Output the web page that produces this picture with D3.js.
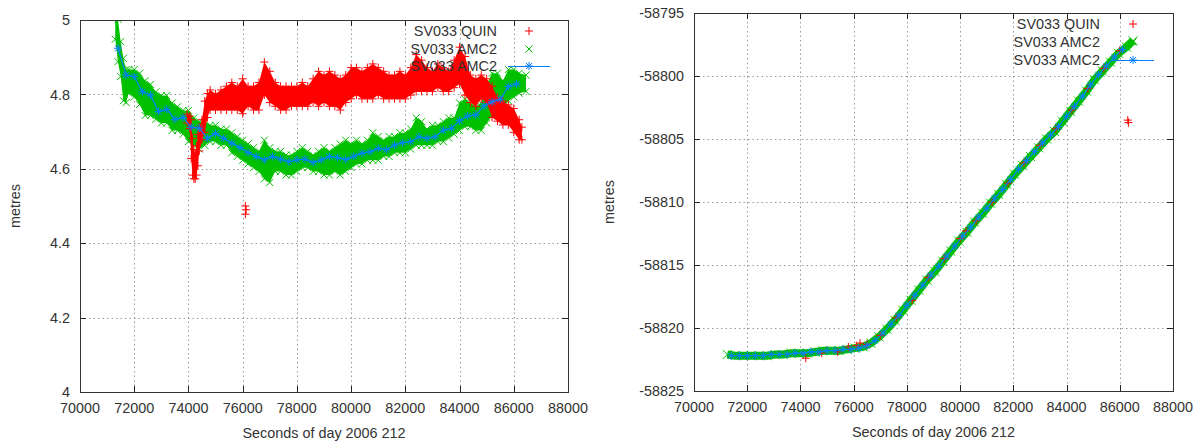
<!DOCTYPE html>
<html><head><meta charset="utf-8">
<script src="https://cdn.jsdelivr.net/npm/d3@7/dist/d3.min.js"></script>
<style>
body{margin:0;background:#fff;}
svg{display:block;font-family:"Liberation Sans",Arial,sans-serif;}
</style></head><body>
<svg id="c" width="1200" height="443"></svg>
<script>
// ---------- shared ----------
const xTicks = [70000,72000,74000,76000,78000,80000,82000,84000,86000,88000];
const leftYTicks = [4,4.2,4.4,4.6,4.8,5];
const rightYTicks = [-58825,-58820,-58815,-58810,-58805,-58800,-58795];
const xLabel = "Seconds of day 2006 212";
const yLabel = "metres";
const legendLabels = ["SV033 QUIN","SV033 AMC2","SV033 AMC2"];

// ---------- left panel: SV033 QUIN (band of points, lo/hi envelope) ----------
const quinTime = [73950,74050,74100,74150,74200,74250,74300,74350,74400,74500,74600,74700,74800,75000,75200,75400,75600,75800,76000,76200,76400,76600,76800,77000,77200,77400,77600,77800,78000,78200,78400,78600,78800,79000,79200,79400,79600,79800,80000,80200,80400,80600,80800,81000,81200,81400,81600,81800,82000,82200,82400,82600,82800,83000,83200,83400,83600,83800,84000,84200,84400,84600,84800,85000,85200,85400,85600,85800,86000,86200,86300];
const quinLo = [4.715,4.70,4.62,4.575,4.565,4.565,4.575,4.60,4.64,4.67,4.69,4.73,4.75,4.75,4.75,4.75,4.75,4.75,4.74,4.76,4.75,4.75,4.79,4.77,4.76,4.75,4.75,4.76,4.76,4.76,4.76,4.77,4.76,4.77,4.76,4.76,4.75,4.77,4.78,4.79,4.78,4.78,4.78,4.79,4.78,4.78,4.78,4.78,4.78,4.79,4.80,4.80,4.80,4.80,4.81,4.80,4.80,4.81,4.82,4.79,4.77,4.76,4.78,4.77,4.73,4.72,4.71,4.71,4.69,4.67,4.67];
const quinHi = [4.755,4.75,4.74,4.69,4.66,4.65,4.67,4.70,4.72,4.74,4.79,4.81,4.82,4.81,4.82,4.83,4.84,4.83,4.85,4.83,4.83,4.84,4.895,4.87,4.84,4.83,4.83,4.83,4.83,4.84,4.83,4.85,4.87,4.86,4.87,4.86,4.85,4.86,4.88,4.88,4.87,4.88,4.89,4.88,4.87,4.86,4.86,4.87,4.86,4.88,4.915,4.90,4.88,4.87,4.89,4.88,4.87,4.90,4.935,4.91,4.86,4.85,4.86,4.85,4.83,4.80,4.79,4.78,4.77,4.74,4.72];
const quinOutTime = [76100,76100,76130];
const quinOutVal = [4.500,4.478,4.490];

// ---------- left panel: SV033 AMC2 (band of points) ----------
const amc2Time = [71300,71400,71500,71600,71700,71800,72000,72200,72400,72600,72800,73000,73200,73400,73600,73800,74000,74200,74400,74600,74800,75000,75200,75400,75600,75800,76000,76200,76400,76600,76800,77000,77200,77400,77600,77800,78000,78200,78400,78600,78800,79000,79200,79400,79600,79800,80000,80200,80400,80600,80800,81000,81200,81400,81600,81800,82000,82200,82400,82600,82800,83000,83200,83400,83600,83800,84000,84200,84400,84600,84800,85000,85200,85400,85600,85800,86000,86200,86450];
const amc2Lo = [4.94,4.88,4.84,4.775,4.77,4.795,4.785,4.765,4.735,4.735,4.725,4.715,4.715,4.695,4.695,4.685,4.665,4.655,4.645,4.655,4.665,4.665,4.655,4.655,4.635,4.625,4.615,4.605,4.595,4.585,4.565,4.555,4.585,4.585,4.575,4.575,4.585,4.595,4.595,4.585,4.585,4.575,4.575,4.585,4.575,4.585,4.595,4.605,4.605,4.615,4.615,4.615,4.625,4.625,4.635,4.635,4.635,4.645,4.655,4.655,4.655,4.655,4.665,4.665,4.675,4.685,4.695,4.705,4.705,4.695,4.695,4.715,4.735,4.745,4.755,4.775,4.785,4.795,4.80];
const amc2Hi = [5.02,5.01,4.95,4.905,4.875,4.875,4.875,4.865,4.845,4.835,4.815,4.805,4.805,4.785,4.775,4.765,4.765,4.745,4.735,4.735,4.725,4.725,4.715,4.715,4.705,4.695,4.685,4.675,4.665,4.655,4.685,4.665,4.655,4.655,4.645,4.645,4.655,4.665,4.655,4.645,4.655,4.665,4.655,4.665,4.675,4.685,4.675,4.685,4.675,4.685,4.705,4.695,4.685,4.695,4.695,4.705,4.705,4.715,4.745,4.735,4.715,4.725,4.725,4.735,4.745,4.745,4.785,4.795,4.785,4.775,4.785,4.835,4.865,4.865,4.845,4.875,4.875,4.865,4.86];

// ---------- smoothed SV033 AMC2 (linespoints), shared time grid ----------
const smoothTime = [71400,71700,72000,72300,72600,72900,73200,73500,73800,74100,74400,74700,75000,75300,75600,75900,76200,76500,76800,77100,77400,77700,78000,78300,78600,78900,79200,79500,79800,80100,80400,80700,81000,81300,81600,81900,82200,82500,82800,83100,83400,83700,84000,84300,84600,84900,85200,85500,85800,86100];
const smoothLeft = [4.924,4.852,4.848,4.807,4.798,4.754,4.760,4.733,4.738,4.712,4.709,4.682,4.695,4.682,4.669,4.657,4.644,4.633,4.624,4.633,4.626,4.619,4.624,4.626,4.617,4.624,4.633,4.630,4.625,4.634,4.642,4.646,4.655,4.651,4.664,4.670,4.673,4.686,4.682,4.686,4.704,4.709,4.729,4.742,4.745,4.769,4.780,4.787,4.821,4.828];
const smoothRight = [-58822.2,-58822.2,-58822.2,-58822.2,-58822.2,-58822.1,-58822.1,-58822.1,-58822.0,-58822.0,-58821.9,-58821.9,-58821.8,-58821.8,-58821.7,-58821.7,-58821.6,-58821.4,-58821.0,-58820.4,-58819.7,-58819.0,-58818.2,-58817.4,-58816.6,-58815.8,-58815.1,-58814.3,-58813.5,-58812.7,-58812.0,-58811.2,-58810.5,-58809.7,-58809.0,-58808.2,-58807.4,-58806.7,-58806.0,-58805.3,-58804.7,-58804.0,-58803.2,-58802.4,-58801.6,-58800.7,-58799.9,-58799.2,-58798.5,-58797.9];

// ---------- right panel raw series ----------
const amc2RightTime = [71250,71550,71850,72150,72450,72750,73050,73350,73650,73950,74250,74550,74850,75150,75450,75750,76050,76350,76650,76950,77250,77550,77850,78150,78450,78750,79050,79350,79650,79950,80250,80550,80850,81150,81450,81750,82050,82350,82650,82950,83250,83550,83850,84150,84450,84750,85050,85350,85650,85950,86250,86500];
const amc2RightVal = [-58822.1,-58822.2,-58822.2,-58822.2,-58822.2,-58822.2,-58822.1,-58822.1,-58822.0,-58822.0,-58822.0,-58821.9,-58821.8,-58821.8,-58821.8,-58821.7,-58821.6,-58821.5,-58821.2,-58820.7,-58820.1,-58819.4,-58818.6,-58817.8,-58817.0,-58816.2,-58815.5,-58814.7,-58813.9,-58813.1,-58812.4,-58811.6,-58810.9,-58810.1,-58809.4,-58808.6,-58807.8,-58807.1,-58806.4,-58805.7,-58805.0,-58804.4,-58803.6,-58802.8,-58802.0,-58801.2,-58800.3,-58799.6,-58798.9,-58798.2,-58797.7,-58797.2];
const quinRightTime = [74200,74800,75400,75800,76100,76240,76500,77000,77600,78200,78800,79400,80000,80220,80600,81200,81800,82400,83000,83600,84200,84800,85400,86000,86300,86330];
const quinRightVal = [-58822.4,-58822.0,-58821.9,-58821.5,-58821.4,-58821.2,-58821.3,-58820.6,-58819.2,-58817.8,-58816.0,-58814.5,-58812.9,-58812.3,-58811.5,-58810.0,-58808.5,-58806.9,-58805.5,-58804.2,-58802.7,-58801.0,-58799.4,-58798.0,-58803.5,-58803.7];

// ---------- styles ----------
const RED = "#ff0000", GREEN = "#00c000", BLUE = "#0080ff";
const FONT = "14.4px";
const TXT = "#333";
const PLUS = "M-4,0H4M0,-4V4";
const CROSS = "M-3.5,-3.5L3.5,3.5M-3.5,3.5L3.5,-3.5";
const CROSS_BIG = "M-4.5,-4.5L4.5,4.5M-4.5,4.5L4.5,-4.5";
const STAR = "M-4,0H4M0,-4V4M-3,-3L3,3M-3,3L3,-3";

const svg = d3.select("#c");

function panel(cfg) {
  const x = d3.scaleLinear().domain([70000, 88000]).range([cfg.x0, cfg.x1]);
  const y = d3.scaleLinear().domain(cfg.yDomain).range([cfg.y1, cfg.y0]);
  const g = svg.append("g");
  const clipId = "clip" + cfg.id;
  svg.append("clipPath").attr("id", clipId).append("rect")
    .attr("x", cfg.x0).attr("y", cfg.y0).attr("width", cfg.x1 - cfg.x0).attr("height", cfg.y1 - cfg.y0);

  const grid = g.append("g").attr("stroke", "#9a9a9a").attr("stroke-dasharray", "1.5,3").attr("stroke-width", 1);
  xTicks.slice(1, -1).forEach(t => grid.append("line")
    .attr("x1", Math.round(x(t)) + 0.5).attr("x2", Math.round(x(t)) + 0.5)
    .attr("y1", cfg.y0).attr("y2", cfg.y1));
  cfg.yTicks.slice(1, -1).forEach(t => grid.append("line")
    .attr("y1", Math.round(y(t)) + 0.5).attr("y2", Math.round(y(t)) + 0.5)
    .attr("x1", cfg.x0).attr("x2", cfg.x1));

  const tk = g.append("g").attr("stroke", "#222").attr("stroke-width", 1);
  xTicks.forEach(t => {
    const px = Math.round(x(t)) + 0.5;
    tk.append("line").attr("x1", px).attr("x2", px).attr("y1", cfg.y1).attr("y2", cfg.y1 - 6);
    tk.append("line").attr("x1", px).attr("x2", px).attr("y1", cfg.y0).attr("y2", cfg.y0 + 6);
  });
  cfg.yTicks.forEach(t => {
    const py = Math.round(y(t)) + 0.5;
    tk.append("line").attr("y1", py).attr("y2", py).attr("x1", cfg.x0).attr("x2", cfg.x0 + 6);
    tk.append("line").attr("y1", py).attr("y2", py).attr("x1", cfg.x1).attr("x2", cfg.x1 - 6);
  });

  const lab = g.append("g").attr("fill", TXT).style("font-size", FONT);
  xTicks.forEach(t => lab.append("text").attr("x", x(t)).attr("y", cfg.y1 + 21)
    .attr("text-anchor", "middle").text(String(t)));
  cfg.yTicks.forEach(t => lab.append("text").attr("x", cfg.x0 - 10).attr("y", y(t))
    .attr("dy", "0.36em").attr("text-anchor", "end").text(String(t)));

  lab.append("text").attr("x", (cfg.x0 + cfg.x1) / 2).attr("y", cfg.y1 + 46)
    .attr("text-anchor", "middle").text(xLabel);
  lab.append("text").attr("transform", `translate(${cfg.yLabelX},${(cfg.y0 + cfg.y1) / 2}) rotate(-90)`)
    .attr("text-anchor", "middle").text(yLabel);

  const plot = svg.append("g").attr("clip-path", `url(#${clipId})`);
  return { x, y, g, plot };
}

function band(plot, x, y, T, LO, HI, color, marker) {
  const data = T.map((t, i) => ({ t, lo: LO[i], hi: HI[i] }));
  plot.append("path").datum(data)
    .attr("d", d3.area().x(d => x(d.t)).y0(d => y(d.lo) - 3).y1(d => y(d.hi) + 3))
    .attr("fill", color);
  const edges = data.flatMap(d => [{ t: d.t, v: d.hi, e: 3 }, { t: d.t, v: d.lo, e: -3 }]);
  plot.append("g").selectAll("path").data(edges).join("path")
    .attr("transform", d => `translate(${x(d.t)},${y(d.v) + d.e})`)
    .attr("d", marker).attr("stroke", color).attr("fill", "none");
}

function points(plot, x, y, T, V, color, marker) {
  plot.append("g").selectAll("path").data(T.map((t, i) => ({ t, v: V[i] }))).join("path")
    .attr("transform", d => `translate(${x(d.t)},${y(d.v)})`)
    .attr("d", marker).attr("stroke", color).attr("fill", "none");
}

function linespoints(plot, x, y, T, V, color) {
  const data = T.map((t, i) => ({ t, v: V[i] }));
  plot.append("path").datum(data)
    .attr("d", d3.line().x(d => x(d.t)).y(d => y(d.v)))
    .attr("stroke", color).attr("fill", "none").attr("stroke-width", 1.2);
  points(plot, x, y, T, V, color, STAR);
}

function frame(cfg) {
  svg.append("rect").attr("x", cfg.x0 + 0.5).attr("y", cfg.y0 + 0.5)
    .attr("width", cfg.x1 - cfg.x0).attr("height", cfg.y1 - cfg.y0)
    .attr("fill", "none").attr("stroke", "#333").attr("stroke-width", 1);
}

function legend(lx, lsym, rows) {
  const g = svg.append("g");
  const markers = [PLUS, CROSS, STAR];
  const colors = [RED, GREEN, BLUE];
  legendLabels.forEach((l, i) => {
    g.append("text").attr("x", lx).attr("y", rows[i]).attr("dy", "0.36em")
      .attr("text-anchor", "end").attr("fill", TXT).style("font-size", FONT).text(l);
    if (i === 2) {
      g.append("line").attr("x1", lsym - 21).attr("x2", lsym + 21)
        .attr("y1", rows[i] + 0.5).attr("y2", rows[i] + 0.5).attr("stroke", BLUE);
    }
    g.append("path").attr("transform", `translate(${lsym},${rows[i]})`)
      .attr("d", markers[i]).attr("stroke", colors[i]).attr("fill", "none");
  });
}

// ---------- left chart ----------
const L = { id: "L", x0: 80, x1: 568, y0: 20, y1: 392, yDomain: [4, 5], yTicks: leftYTicks, yLabelX: 20 };
const pl = panel(L);
band(pl.plot, pl.x, pl.y, amc2Time, amc2Lo, amc2Hi, GREEN, CROSS);
band(pl.plot, pl.x, pl.y, quinTime, quinLo, quinHi, RED, PLUS);
points(pl.plot, pl.x, pl.y, quinOutTime, quinOutVal, RED, PLUS);
linespoints(pl.plot, pl.x, pl.y, smoothTime, smoothLeft, BLUE);
frame(L);
legend(497, 529, [31, 49, 66]);

// ---------- right chart ----------
const R = { id: "R", x0: 694, x1: 1173, y0: 13, y1: 391, yDomain: [-58825, -58795], yTicks: rightYTicks, yLabelX: 614 };
const pr = panel(R);
{
  const data = amc2RightTime.map((t, i) => ({ t, v: amc2RightVal[i] }));
  pr.plot.append("path").datum(data)
    .attr("d", d3.line().x(d => pr.x(d.t)).y(d => pr.y(d.v)))
    .attr("stroke", GREEN).attr("stroke-width", 8).attr("fill", "none");
}
points(pr.plot, pr.x, pr.y, amc2RightTime, amc2RightVal, GREEN, CROSS_BIG);
points(pr.plot, pr.x, pr.y, quinRightTime, quinRightVal, RED, PLUS);
linespoints(pr.plot, pr.x, pr.y, smoothTime, smoothRight, BLUE);
frame(R);
legend(1100, 1133, [24, 42, 60]);
</script>
</body></html>
